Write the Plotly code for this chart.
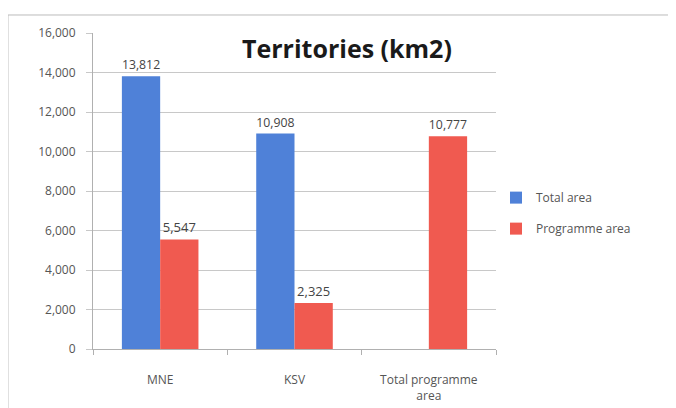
import plotly.graph_objects as go

categories = ["MNE", "KSV", "Total programme<br>area"]
total_area = [13812, 10908, None]
programme_area = [5547, 2325, 10777]
y_ticks = [0, 2000, 4000, 6000, 8000, 10000, 12000, 14000, 16000]

def labels(vals):
    return ["" if v is None else f"{v:,}" for v in vals]

fig = go.Figure()
fig.add_trace(go.Bar(name="Total area", x=categories, y=total_area,
                     legendgroup="a",
                     marker=dict(color="#4f81d8", line=dict(width=0)),
                     text=labels(total_area), textposition="outside",
                     textfont=dict(size=13, color="#444"), cliponaxis=False))
fig.add_trace(go.Bar(name="Programme area", x=categories, y=programme_area,
                     legendgroup="b",
                     marker=dict(color="#f05a50", line=dict(width=0)),
                     text=labels(programme_area), textposition="outside",
                     textfont=dict(size=13, color="#444"), cliponaxis=False))

fig.update_layout(
    width=668, height=400,
    margin=dict(l=85, r=180, t=25, b=59),
    paper_bgcolor="white", plot_bgcolor="white",
    barmode="group", bargap=0.43, bargroupgap=0,
    font=dict(family="Open Sans, Liberation Sans, sans-serif", size=12, color="#555"),
    showlegend=True,
    legend=dict(x=1.0, y=0.43, xanchor="left", yanchor="middle",
                font=dict(size=12, color="#555"), tracegroupgap=12,
                itemwidth=30, bgcolor="rgba(0,0,0,0)"),
    annotations=[dict(text="<b>Territories (km2)</b>", x=0.63, y=1.0, xref="paper",
                      yref="paper", xanchor="center", yanchor="top", yshift=4,
                      showarrow=False,
                      font=dict(size=25, color="#1a1a1a",
                                family="Open Sans, Liberation Sans, sans-serif"))],
    shapes=[dict(type="rect", xref="paper", yref="paper", x0=-0.211, x1=1.6,
                 y0=-0.3, y1=1.057, line=dict(color="#bbb", width=1))],
)
fig.update_yaxes(range=[0, 16000], tickvals=y_ticks, tickformat=",",
                 showgrid=True, gridcolor="#c8c8c8", gridwidth=1,
                 ticks="outside", ticklen=6, tickcolor="#c8c8c8",
                 ticklabelstandoff=8, automargin=False,
                 showline=True, linecolor="#b0b0b0", zeroline=False,
                 tickfont=dict(size=12, color="#555"))
fig.update_xaxes(showline=True, linecolor="#b0b0b0", ticks="outside",
                 tickson="boundaries", ticklen=5, tickcolor="#b0b0b0",
                 ticklabelstandoff=20, automargin=False,
                 tickfont=dict(size=12, color="#555"))

fig.write_html("out.html")
